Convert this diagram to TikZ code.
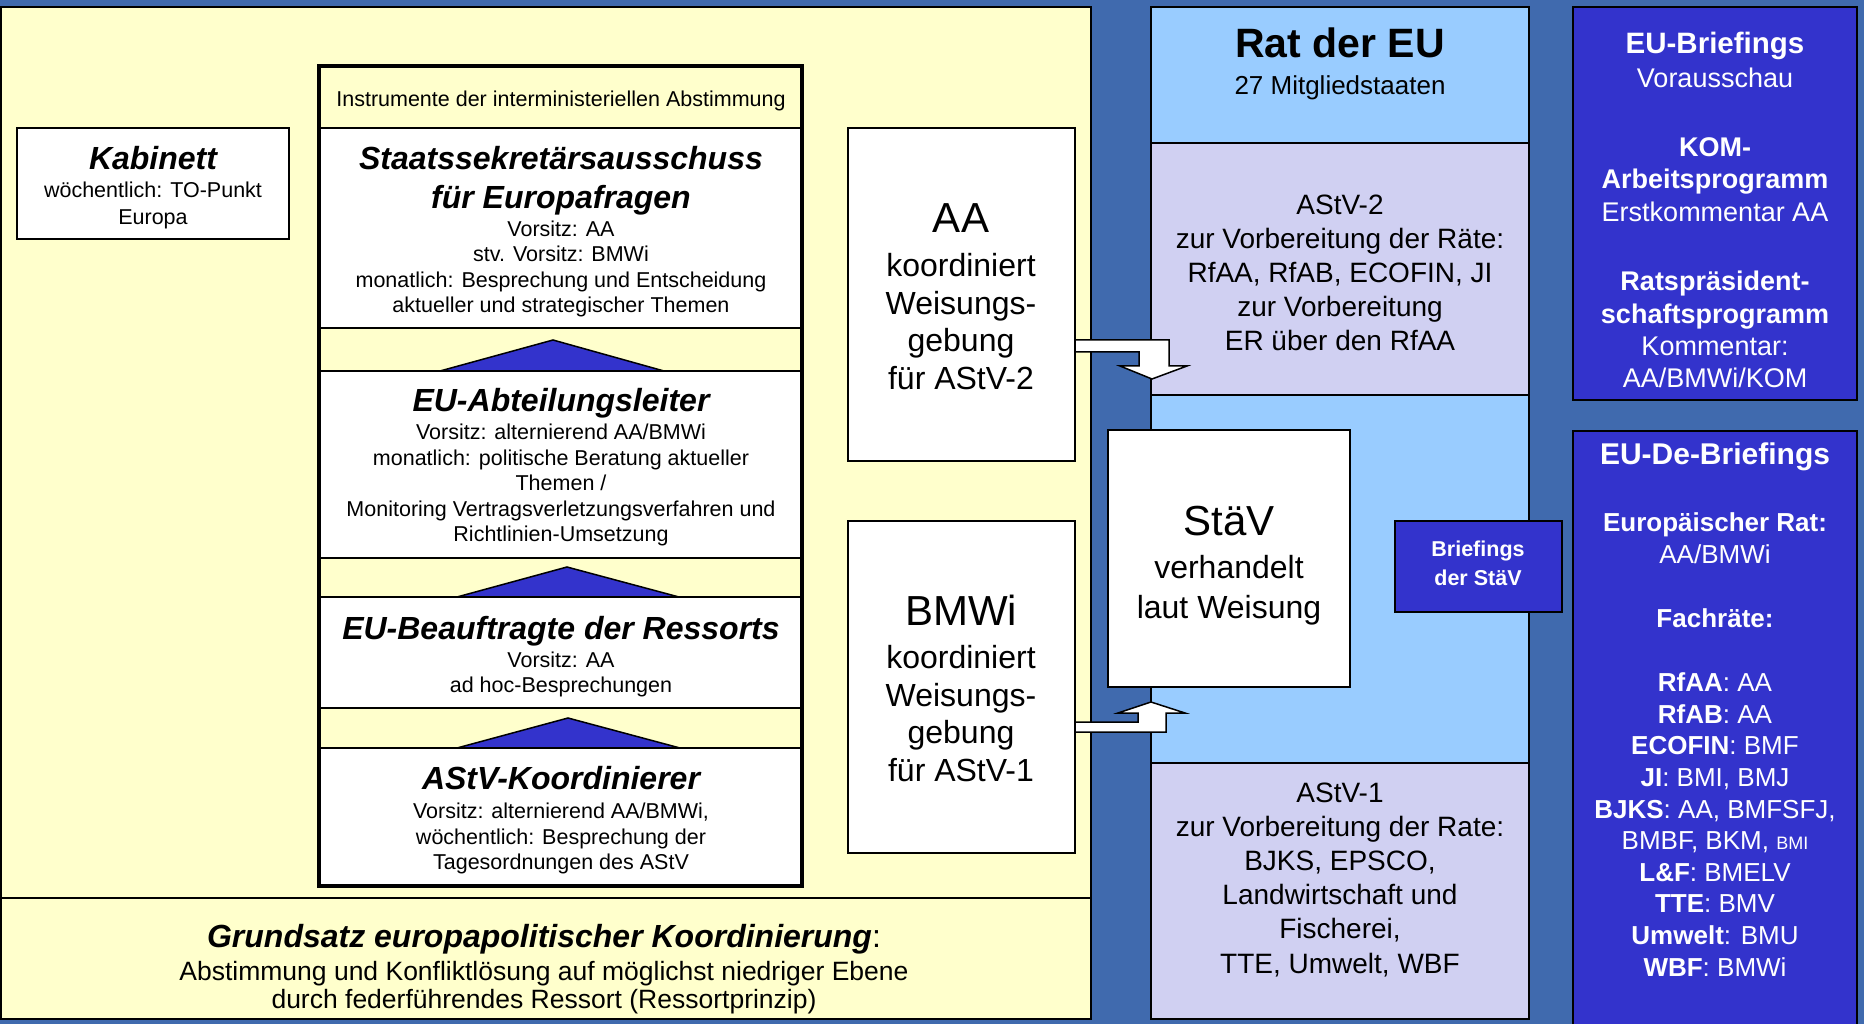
\documentclass[tikz,border=0pt]{standalone}
\usepackage{fontspec}
\setmainfont{Liberation Sans}
\definecolor{bluebg}{RGB}{64,106,174}
\definecolor{yellowbg}{RGB}{255,255,204}
\definecolor{ratblue}{RGB}{153,204,255}
\definecolor{lavend}{RGB}{208,208,242}
\definecolor{darkbl}{RGB}{51,51,204}
\newcommand{\mySm}{\fontsize{21.5}{25.5}\selectfont}
\newcommand{\myKab}{\fontsize{21.5}{27}\selectfont}
\newcommand{\myTit}{\fontsize{32}{39}\selectfont\bfseries\itshape}
\newcommand{\myMid}{\fontsize{32}{37.5}\selectfont}
\newcommand{\myBig}{\fontsize{42}{46}\selectfont}
\newcommand{\myRatT}{\fontsize{41}{46}\selectfont\bfseries}
\newcommand{\myRat}{\fontsize{28}{34.2}\selectfont}
\newcommand{\myGrT}{\fontsize{32}{38}\selectfont}
\newcommand{\myGr}{\fontsize{26.5}{28}\selectfont}
\newcommand{\myWB}{\fontsize{27}{32.5}\selectfont}
\newcommand{\myDB}{\fontsize{26}{31.6}\selectfont}
\tikzset{
  box/.style={draw=black, line width=1.5pt, inner sep=0pt, outer sep=0pt, anchor=north west},
  txt/.style={align=center, anchor=base, inner sep=0pt, outer sep=0pt},
  wtxt/.style={txt, text=white},
  tri/.style={fill=darkbl, draw=black, line width=1.5pt, line join=miter},
  blockarrow/.style={fill=white, draw=black, line width=1.5pt, line join=miter},
}
\begin{document}
\begin{tikzpicture}[x=1pt,y=-1pt]
\useasboundingbox (0,0) rectangle (1864,1024);
\clip (0,0) rectangle (1864,1024);
\fill[bluebg] (0,0) rectangle (1864,1024);

% left yellow panel
\node[box, fill=yellowbg, minimum width=1090pt, minimum height=1012pt] (left) at (1,7) {};
\draw[line width=2pt] (left.west |- 0,898) -- (left.east |- 0,898);

% Kabinett
\node[box, fill=white, minimum width=272pt, minimum height=111pt] (kab) at (17,128) {};

% column of instruments
\node[box, draw=none, fill=yellowbg, minimum width=483pt, minimum height=820pt] (col) at (319,66) {};
\draw[tri] (440,371) -- (553,340) -- (664,371) -- cycle;
\draw[tri] (457,597) -- (567,567) -- (679,597) -- cycle;
\draw[tri] (457,748) -- (568,718) -- (680,748) -- cycle;
\node[box, fill=white, minimum width=483pt, minimum height=200pt] (ss) at (319,128) {};
\node[box, fill=white, minimum width=483pt, minimum height=187pt] (ab) at (319,371) {};
\node[box, fill=white, minimum width=483pt, minimum height=111pt] (be) at (319,597) {};
\node[box, fill=white, minimum width=483pt, minimum height=138pt] (ko) at (319,748) {};
\draw[line width=4pt] (col.north west) rectangle (col.south east);

% AA and BMWi boxes
\node[box, fill=white, minimum width=227pt, minimum height=333pt] (aa) at (848,128) {};
\node[box, fill=white, minimum width=227pt, minimum height=332pt] (bm) at (848,521) {};

% Rat der EU column
\node[box, fill=ratblue, minimum width=378pt, minimum height=136pt] (rtop) at (1151,7) {};
\node[box, fill=lavend, minimum width=378pt, minimum height=252pt] (astv2) at (1151,143) {};
\node[box, fill=ratblue, minimum width=378pt, minimum height=368pt] (rmid) at (1151,395) {};
\node[box, fill=lavend, minimum width=378pt, minimum height=256pt] (astv1) at (1151,763) {};

% block arrows
\draw[blockarrow] (aa.east |- 0,340) -- (1169,340) -- (1169,366) -- (1187,366) -- (1152,379) -- (1120,366) -- (1139,366) -- (1139,352) -- (aa.east |- 0,352) -- cycle;
\draw[blockarrow] (bm.east |- 0,732) -- (bm.east |- 0,722) -- (1138,722) -- (1138,713) -- (1118,713) -- (1151,702) -- (1185,713) -- (1166,713) -- (1166,732) -- cycle;

% StaeV
\node[box, fill=white, minimum width=242pt, minimum height=257pt] (stav) at (1108,430) {};
\node[box, fill=darkbl, line width=2pt, minimum width=167pt, minimum height=91pt] (brs) at (1395,521) {};

% right column
\node[box, fill=darkbl, line width=2pt, minimum width=284pt, minimum height=393pt] (eub) at (1573,7) {};
\node[box, fill=darkbl, line width=2pt, minimum width=284pt, minimum height=620pt] (eud) at (1573,431) {};

% ---------- texts (base anchor = baseline of the last line) ----------
\node[txt, font=\mySm] (tInstr) at (561,107) {Instrumente der interministeriellen Abstimmung};
\node[txt, font=\myTit] (tKab) at (153,169.5) {Kabinett};
\node[txt, font=\myKab] (tKabb) at (153,224.7) {wöchentlich: TO-Punkt\\Europa};

\node[txt, font=\myTit] (tSS) at (561,208.5) {Staatssekretärsausschuss\\für Europafragen};
\node[txt, font=\mySm] (tSSb) at (561,312.7) {Vorsitz: AA\\stv. Vorsitz: BMWi\\monatlich: Besprechung und Entscheidung\\aktueller und strategischer Themen};
\node[txt, font=\myTit] (tAB) at (561,411.5) {EU-Abteilungsleiter};
\node[txt, font=\mySm] (tABb) at (561,541.7) {Vorsitz: alternierend AA/BMWi\\monatlich: politische Beratung aktueller\\Themen /\\Monitoring Vertragsverletzungsverfahren und\\Richtlinien-Umsetzung};
\node[txt, font=\myTit] (tBE) at (561,639.5) {EU-Beauftragte der Ressorts};
\node[txt, font=\mySm] (tBEb) at (561,692.7) {Vorsitz: AA\\ad hoc-Besprechungen};
\node[txt, font=\myTit] (tKO) at (561,789.5) {AStV-Koordinierer};
\node[txt, font=\mySm] (tKOb) at (561,869.7) {Vorsitz: alternierend AA/BMWi,\\wöchentlich: Besprechung der\\Tagesordnungen des AStV};

\node[txt, font=\myGrT] (tGr) at (544,947.5) {{\bfseries\itshape Grundsatz europapolitischer Koordinierung}:};
\node[txt, font=\myGr] (tGrb) at (544,1008.5) {Abstimmung und Konfliktlösung auf möglichst niedriger Ebene\\durch federführendes Ressort (Ressortprinzip)};

\node[txt, font=\myBig] (tAA) at (961,233) {AA};
\node[txt, font=\myMid] (tAAb) at (961,389) {koordiniert\\Weisungs-\\gebung\\für AStV-2};
\node[txt, font=\myBig] (tBM) at (961,625) {BMWi};
\node[txt, font=\myMid] (tBMb) at (961,781) {koordiniert\\Weisungs-\\gebung\\für AStV-1};

\node[txt, font=\myRatT] (tRat) at (1340,57.7) {Rat der EU};
\node[txt, font=\fontsize{26}{30}\selectfont] (tRatb) at (1340,95) {27 Mitgliedstaaten};
\node[txt, font=\myRat] (tA2) at (1340,351) {AStV-2\\zur Vorbereitung der Räte:\\RfAA, RfAB, ECOFIN, JI\\zur Vorbereitung\\ER über den RfAA};
\node[txt, font=\myRat] (tA1) at (1340,973) {AStV-1\\zur Vorbereitung der Rate:\\BJKS, EPSCO,\\Landwirtschaft und\\Fischerei,\\TTE, Umwelt, WBF};

\node[txt, font=\myBig] (tSt) at (1229,535) {StäV};
\node[txt, font=\fontsize{32}{40}\selectfont] (tStb) at (1229,618.5) {verhandelt\\laut Weisung};

\node[wtxt, font=\fontsize{21.5}{29}\selectfont\bfseries] (tBrs) at (1478,585) {Briefings\\der StäV};

\node[wtxt, font=\fontsize{29.5}{34}\selectfont\bfseries] (tEub) at (1715,53.6) {EU-Briefings};
\node[wtxt, font=\myWB] (tEubb) at (1715,388) {Vorausschau\\[36.5pt]\textbf{KOM-}\\\textbf{Arbeitsprogramm}\\Erstkommentar AA\\[37pt]\textbf{Ratspräsident-}\\\textbf{schaftsprogramm}\\Kommentar:\\AA/BMWi/KOM};

\node[wtxt, font=\fontsize{30}{34}\selectfont\bfseries] (tEud) at (1715,464) {EU-De-Briefings};
\node[wtxt, font=\myDB] (tEudb) at (1715,976) {\textbf{Europäischer Rat:}\\AA/BMWi\\[32pt]\textbf{Fachräte:}\\[33pt]\textbf{RfAA}: AA\\\textbf{RfAB}: AA\\\textbf{ECOFIN}: BMF\\\textbf{JI}: BMI, BMJ\\\textbf{BJKS}: AA, BMFSFJ,\\BMBF, BKM, {\fontsize{18}{20}\selectfont BMI}\\\textbf{L\&F}: BMELV\\\textbf{TTE}: BMV\\\textbf{Umwelt}: BMU\\\textbf{WBF}: BMWi};
\end{tikzpicture}
\end{document}
